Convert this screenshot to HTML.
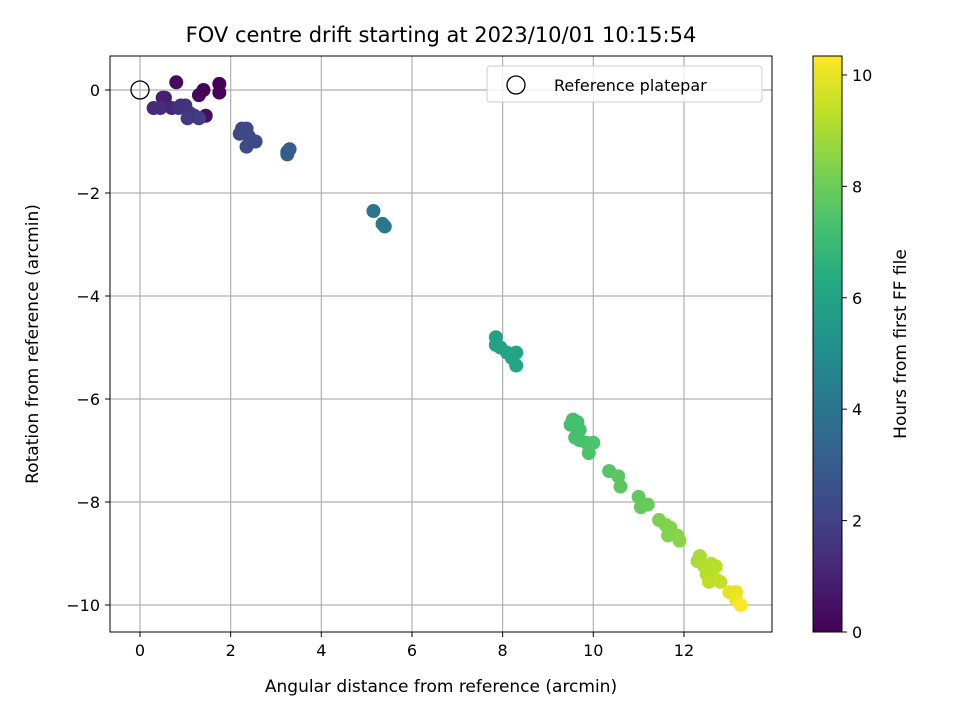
<!DOCTYPE html>
<html><head><meta charset="utf-8"><style>
body{margin:0;background:#fff;}
svg{display:block;font-family:"DejaVu Sans","Liberation Sans",sans-serif;}
</style></head><body>
<svg id="chart" width="960" height="720">
<defs>
<linearGradient id="vir" x1="0" y1="1" x2="0" y2="0">
<stop offset="0" stop-color="#440154"/><stop offset="0.1" stop-color="#482475"/><stop offset="0.2" stop-color="#414487"/><stop offset="0.3" stop-color="#355f8d"/><stop offset="0.4" stop-color="#2a788e"/><stop offset="0.5" stop-color="#21918c"/><stop offset="0.6" stop-color="#22a884"/><stop offset="0.7" stop-color="#44bf70"/><stop offset="0.8" stop-color="#7ad151"/><stop offset="0.9" stop-color="#bddf26"/><stop offset="1" stop-color="#fde725"/>
</linearGradient>
</defs>
<text x="441" y="42" text-anchor="middle" font-size="21">FOV centre drift starting at 2023/10/01 10:15:54</text>
<g id="grid"></g>
<g id="pts"></g>
<rect x="110" y="56" width="662" height="576" fill="none" stroke="#000" stroke-width="1"/>
<g id="ticks"></g>
<text x="441" y="692" text-anchor="middle" font-size="17">Angular distance from reference (arcmin)</text>
<text transform="translate(38,344) rotate(-90)" text-anchor="middle" font-size="17">Rotation from reference (arcmin)</text>
<g>
<rect x="487" y="66" width="275" height="36" rx="3" fill="#fff" fill-opacity="0.8" stroke="#ccc"/>
<circle cx="516" cy="85" r="9" fill="none" stroke="#000" stroke-width="1.3"/>
<text x="554" y="91" font-size="16">Reference platepar</text>
</g>
<rect x="813" y="56" width="29" height="576" fill="url(#vir)" stroke="#000" stroke-width="1"/>
<g id="cticks"></g>
<text transform="translate(906,344) rotate(-90)" text-anchor="middle" font-size="17">Hours from first FF file</text>
</svg>
<script>
const xVals=[0.8,1.3,1.4,1.75,1.75,1.45,0.5,0.55,0.3,0.45,0.7,0.9,1.0,1.1,1.2,1.3,1.05,0.85,2.25,2.35,2.2,2.4,2.55,2.35,3.25,3.3,3.25,5.15,5.35,5.4,7.85,7.85,7.95,8.1,8.3,8.2,8.3,9.55,9.65,9.5,9.7,9.6,9.7,9.85,10.0,9.9,10.35,10.55,10.6,11.0,11.05,11.2,11.45,11.6,11.7,11.65,11.85,11.9,12.3,12.35,12.45,12.6,12.7,12.5,12.55,12.7,12.8,13.0,13.15,13.15,13.25];
const yVals=[0.15,-0.1,0.0,0.12,-0.05,-0.5,-0.15,-0.15,-0.35,-0.35,-0.35,-0.3,-0.3,-0.45,-0.5,-0.55,-0.55,-0.35,-0.75,-0.75,-0.85,-0.9,-1.0,-1.1,-1.2,-1.15,-1.25,-2.35,-2.6,-2.65,-4.8,-4.95,-5.0,-5.1,-5.1,-5.2,-5.35,-6.4,-6.45,-6.5,-6.6,-6.75,-6.8,-6.85,-6.85,-7.05,-7.4,-7.5,-7.7,-7.9,-8.1,-8.05,-8.35,-8.45,-8.5,-8.65,-8.65,-8.75,-9.15,-9.05,-9.25,-9.2,-9.25,-9.4,-9.55,-9.5,-9.55,-9.75,-9.75,-9.9,-10.0];
const hours=[0.3,0.2,0.15,0.05,0.1,0.4,0.8,0.9,1.2,1.3,1.1,1.4,1.5,1.6,1.7,1.8,1.7,1.5,2.1,2.15,2.2,2.25,2.3,2.3,3.0,3.0,3.05,4.0,4.1,4.1,5.9,5.9,6.0,6.0,6.05,6.1,6.1,7.2,7.2,7.25,7.25,7.3,7.3,7.35,7.4,7.4,7.6,7.65,7.7,7.8,7.85,7.9,8.3,8.35,8.4,8.4,8.45,8.5,9.0,9.0,9.1,9.2,9.2,9.2,9.3,9.3,9.4,9.9,10.0,10.1,10.3];
const xTicks=[0,2,4,6,8,10,12];
const yTicks=[0,-2,-4,-6,-8,-10];
const cTicks=[0,2,4,6,8,10];
const NS="http://www.w3.org/2000/svg";
const X=v=>140+v*45.33, Y=v=>90-v*51.5;
const cmax=10.34, C=v=>632-v/cmax*576;
const vir=["#440154","#482475","#414487","#355f8d","#2a788e","#21918c","#22a884","#44bf70","#7ad151","#bddf26","#fde725"];
function col(t){t=Math.max(0,Math.min(1,t))*10;const i=Math.min(9,Math.floor(t)),f=t-i;
const a=vir[i],b=vir[i+1];let o="#";for(let k=1;k<7;k+=2){const c=Math.round(parseInt(a.substr(k,2),16)*(1-f)+parseInt(b.substr(k,2),16)*f);o+=c.toString(16).padStart(2,"0");}return o;}
function mk(t,at,p){const e=document.createElementNS(NS,t);for(const k in at)e.setAttribute(k,at[k]);p.appendChild(e);return e;}
const g=document.getElementById("grid"),tk=document.getElementById("ticks"),pts=document.getElementById("pts"),ct=document.getElementById("cticks");
xTicks.forEach(v=>{const x=X(v);
const l=mk("line",{x1:x,x2:x,y1:56,y2:632,stroke:"#b0b0b0","stroke-width":1.2},g);


mk("line",{x1:x,x2:x,y1:632,y2:637,stroke:"#000"},tk);
const t=mk("text",{x:x,y:656,"text-anchor":"middle","font-size":16},tk);t.textContent=v;

});
yTicks.forEach(v=>{const y=Y(v);
const l=mk("line",{x1:110,x2:772,y1:y,y2:y,stroke:"#b0b0b0","stroke-width":1.2},g);


mk("line",{x1:105,x2:110,y1:y,y2:y,stroke:"#000"},tk);
const t=mk("text",{x:100,y:y+6,"text-anchor":"end","font-size":16},tk);t.textContent=v===0?"0":"\u2212"+Math.abs(v);

});
hours.forEach((h,i)=>{const c=mk("circle",{cx:X(xVals[i]),cy:Y(yVals[i]),r:7,fill:col(h/cmax)},pts);

});
const ref=mk("circle",{cx:X(0),cy:Y(0),r:9,fill:"none",stroke:"#000","stroke-width":1.3},pts);


cTicks.forEach(v=>{const y=C(v);
mk("line",{x1:842,x2:847,y1:y,y2:y,stroke:"#000"},ct);
const t=mk("text",{x:852,y:y+6,"font-size":16},ct);t.textContent=v;

});
</script>
</body></html>
